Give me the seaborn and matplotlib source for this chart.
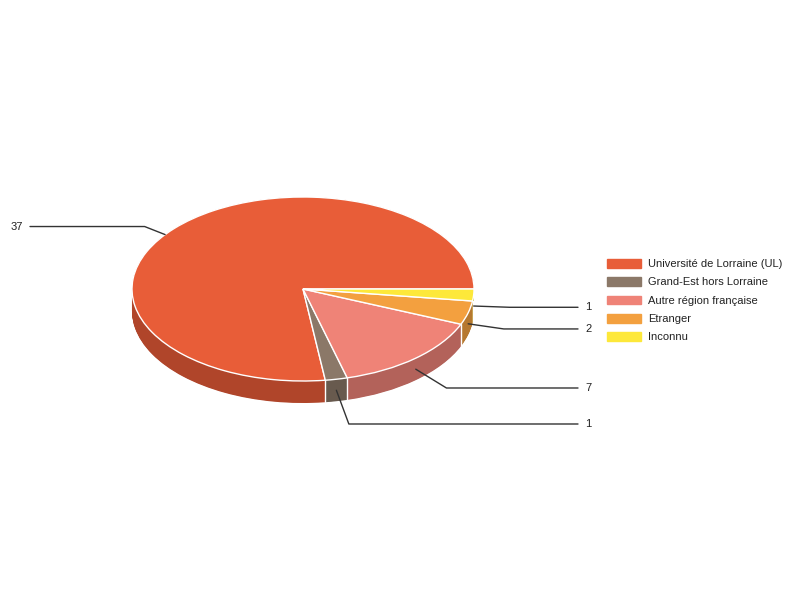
import numpy as np
import matplotlib
matplotlib.use("Agg")
import matplotlib.pyplot as plt
import matplotlib.patches as mpatches
import seaborn as sns

# data
labels = ["Université de Lorraine (UL)", "Grand-Est hors Lorraine",
          "Autre région française", "Etranger", "Inconnu"]
values = [37, 1, 7, 2, 1]
top_colors = ["#E85D38", "#8B7868", "#EF8377", "#F3A03F", "#FDE83A"]
side_colors = ["#B0452A", "#685A4E", "#B3625A", "#B6782F", "#C9B92E"]

sns.set_theme(style="white")
plt.rcParams["font.family"] = ["Liberation Sans", "DejaVu Sans"]

# layout (pixels)
W, H = 800, 600
CX, CY = 303, 289        # pie centre
RX, RY = 171, 92         # ellipse radii
DEPTH = 22               # thickness of the 3d side

fig = plt.figure(figsize=(W / 100, H / 100), dpi=100)
ax = fig.add_axes([0, 0, 1, 1])

d = DEPTH / RY
# side of the pie: stacked pies in the darker colours
for k in np.linspace(-d, 0, 40):
    ax.pie(values, colors=side_colors, startangle=0, counterclock=True,
           center=(0, k), wedgeprops=dict(linewidth=0, antialiased=True))

# top face
ax.pie(values, colors=top_colors, startangle=0, counterclock=True,
       wedgeprops=dict(linewidth=1, edgecolor="white"))

# white separators on the visible side
bounds = np.cumsum([0] + values) / sum(values) * 360
for a in bounds[1:-1]:
    t = np.radians(a)
    if np.sin(t) < 0:
        ax.plot([np.cos(t)] * 2, [np.sin(t), np.sin(t) - d],
                color="white", lw=1, zorder=10)

# leader lines and value labels
mids = (bounds[:-1] + bounds[1:]) / 2
for v, a in zip(values, mids):
    t = np.radians(a)
    front = np.sin(t) < 0
    if not front:
        # labels of back slices are anchored a bit further round the rim
        t = np.radians(a + 5)
    ax_x, ax_y = np.cos(t), np.sin(t)
    if front:
        ax_y -= d / 2
    # direction in pixel space
    dx, dy = np.cos(t) * RX, np.sin(t) * RY
    n = np.hypot(dx, dy)
    ln = 36 if front else 22
    kx = ax_x + dx / n * ln / RX
    ky = ax_y + dy / n * ln / RY
    if np.cos(t) >= 0:
        ex = (578 - CX) / RX
        tx, ha = (585 - CX) / RX, "left"
    else:
        ex = (30 - CX) / RX
        tx, ha = (23 - CX) / RX, "right"
    ax.plot([ax_x, kx, ex], [ax_y, ky, ky], color="#333333", lw=1, zorder=11)
    ax.text(tx, ky, str(v), ha=ha, va="center", fontsize=8, color="#222222")

ax.set_xlim(-CX / RX, (W - CX) / RX)
ax.set_ylim(-(H - CY) / RY, CY / RY)
ax.set_aspect("auto")
ax.axis("off")

handles = [mpatches.Patch(color=c) for c in top_colors]
fig.legend(handles, labels, loc="upper left",
           bbox_to_anchor=(607 / W, 1 - 259 / H), frameon=False,
           fontsize=8, handlelength=3.06, handleheight=0.8,
           handletextpad=0.6, labelspacing=0.74, borderpad=0,
           borderaxespad=0, labelcolor="#222222")

fig.savefig("out.png", dpi=100)
